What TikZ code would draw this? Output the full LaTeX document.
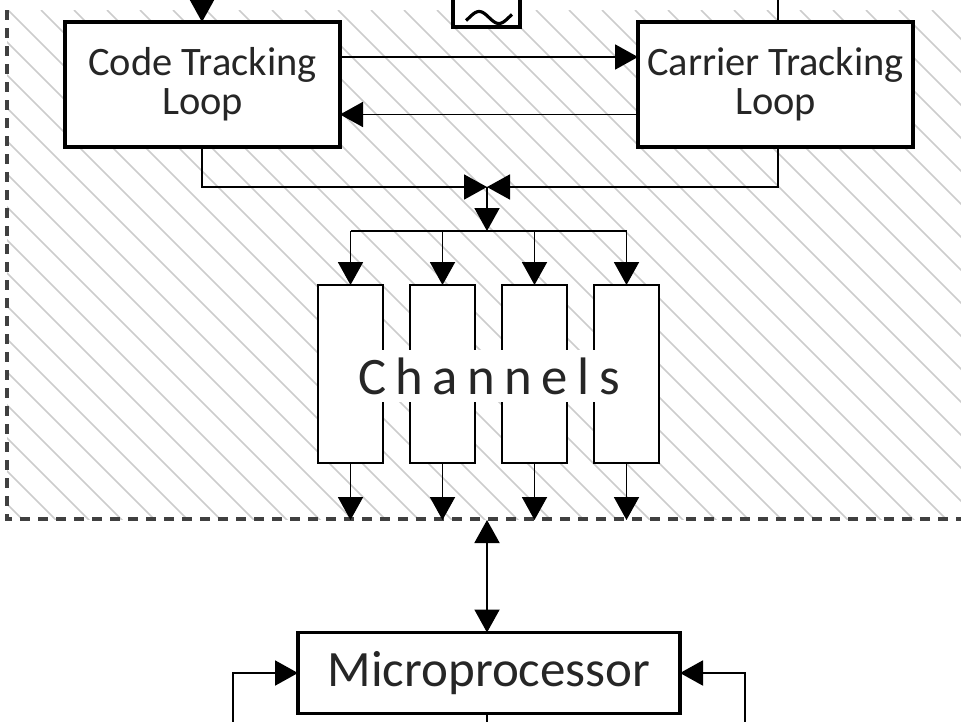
\documentclass[tikz,border=0pt]{standalone}
\usepackage{fontspec}
\setmainfont{Carlito}
\usetikzlibrary{arrows.meta, positioning}
\tikzset{
  loopbox/.style = {draw, line width =2.2pt, fill=white, text=black!85, minimum width =55mm, minimum height =25mm, align=center, font=\fontsize{23}{22}\selectfont, outer sep=0pt},
  chanbox/.style = {draw, line width =1.6pt, fill=white, minimum width =13mm, minimum height =35.6mm, outer sep=0pt},
  conn/.style = {line width =1.1pt},
  arr/.style = {conn, -{Triangle[length=4.6mm, width=5mm]}},
  arrb/.style = {conn, {Triangle[length=4.6mm, width=5mm]}-{Triangle[length=4.6mm, width=5mm]}},
  hatch/.style = {gray!40, line width =0.9pt},
  border/.style = {line width =2pt, black!75, dash pattern=on 2mm off 1.6mm}
}
\begin{document}
\begin{tikzpicture}[x=0.2mm, y=-0.2mm]
\useasboundingbox (0,0) rectangle (961,721);
\begin{scope}
\clip (7,10) rectangle (961,519);
\foreach \i in {-520,-487,...,961} \draw[hatch] (\i,10) -- ++(520,520);
\end{scope}
\draw[border] (7,10) -- (7,519) -- (961,519);

\node[loopbox] (code) at (202.5,84.5) {Code Tracking\\Loop};
\node[loopbox, right=59.6mm of code] (carrier) {Carrier Tracking\\Loop};
\node[draw, line width =2pt, fill=white, minimum width =13.4mm, minimum height =10mm, outer sep=0pt] (osc) at (486.5,2) {};
\draw[line width =1.8pt] plot[domain=-30:390, samples=40] ({466+(\x+30)/420*46}, {17.5-6*sin(\x)});

\node[chanbox] (c1) at (350.5,374) {};
\node[chanbox, right=5.4mm of c1] (c2) {};
\node[chanbox, right=5.4mm of c2] (c3) {};
\node[chanbox, right=5.4mm of c3] (c4) {};
\node[fill=white, text=black!85, minimum width =63.6mm, minimum height =10.4mm, font=\fontsize{30}{30}\selectfont] (chl) at (489,376) {\addfontfeatures{LetterSpace=18}Channels};

\node[loopbox, minimum width =76.4mm, minimum height =16.2mm, font=\fontsize{29}{30}\selectfont] (mp) at (489,673) {Microprocessor};

\coordinate (top1) at (202,-10);
\coordinate (top2) at (778,-10);
\coordinate (jn) at (487,187);
\coordinate (bus) at (487,231);
\coordinate (edge) at (487,520);
\coordinate (fbl) at (233,740);
\coordinate (fbr) at (745,740);
\coordinate (fbd) at (487,740);

\draw[arr] (top1) -- (top1 |- code.north);
\draw[conn] (top2) -- (top2 |- carrier.north);
\draw[arr] ([yshift=5.5mm]code.east) -- ([yshift=5.5mm]carrier.west);
\draw[arr] ([yshift=-6mm]carrier.west) -- ([yshift=-6mm]code.east);
\draw[arr] (top1 |- code.south) |- (jn);
\draw[arr] (top2 |- carrier.south) |- (jn);
\draw[arr] (jn) -- (bus);
\draw[conn] (c1.north |- bus) -- (c4.north |- bus);
\draw[arr] (c1.north |- bus) -- (c1.north);
\draw[arr] (c2.north |- bus) -- (c2.north);
\draw[arr] (c3.north |- bus) -- (c3.north);
\draw[arr] (c4.north |- bus) -- (c4.north);
\draw[arr] (c1.south) -- (c1.south |- edge);
\draw[arr] (c2.south) -- (c2.south |- edge);
\draw[arr] (c3.south) -- (c3.south |- edge);
\draw[arr] (c4.south) -- (c4.south |- edge);
\draw[arrb] (edge) -- (edge |- mp.north);
\draw[arr] (fbl) |- (mp.west);
\draw[arr] (fbr) |- (mp.east);
\draw[conn] (fbd |- mp.south) -- (fbd);
\end{tikzpicture}
\end{document}
